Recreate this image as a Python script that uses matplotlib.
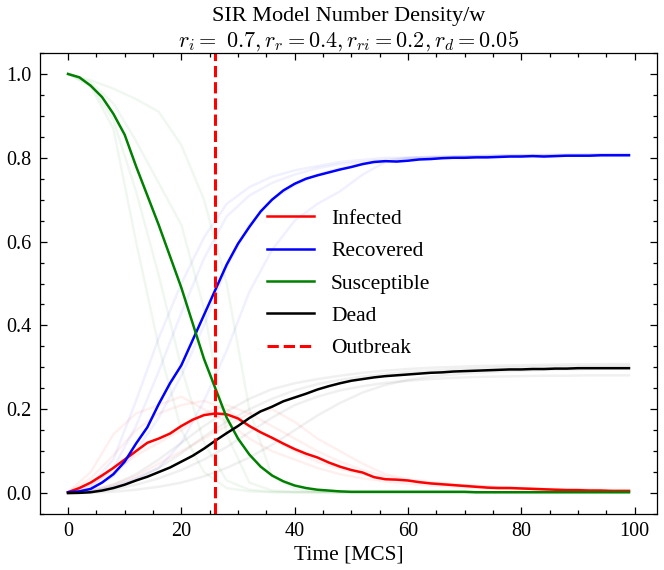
import matplotlib
matplotlib.use("Agg")
import matplotlib.pyplot as plt
from matplotlib.ticker import AutoMinorLocator

# ---------------- data ----------------
t_main = list(range(0, 99, 2)) + [99]

infected = [0.002, 0.012, 0.025, 0.042, 0.060, 0.080, 0.100, 0.120, 0.130, 0.142,
            0.160, 0.175, 0.186, 0.190, 0.188, 0.178, 0.160, 0.145, 0.132, 0.118,
            0.105, 0.094, 0.085, 0.073, 0.063, 0.055,
            0.049, 0.038, 0.033, 0.032, 0.030, 0.026, 0.023, 0.021, 0.019, 0.017,
            0.015, 0.013, 0.012, 0.012, 0.011, 0.010, 0.009, 0.008, 0.007, 0.007,
            0.006, 0.006, 0.005, 0.005, 0.005]
recovered = [0.002, 0.004, 0.010, 0.025, 0.045, 0.075, 0.118, 0.157, 0.212, 0.262,
             0.305, 0.365, 0.425, 0.485, 0.545, 0.595, 0.635, 0.672, 0.700, 0.722,
             0.738, 0.750, 0.758, 0.765, 0.772, 0.778,
             0.785, 0.790, 0.792, 0.791, 0.793, 0.796, 0.797, 0.799, 0.800, 0.800,
             0.801, 0.801, 0.802, 0.803, 0.803, 0.804, 0.803, 0.804, 0.805, 0.805,
             0.805, 0.806, 0.806, 0.806, 0.806]
susceptible = [1.000, 0.992, 0.972, 0.945, 0.905, 0.855, 0.780, 0.710, 0.640, 0.565,
               0.490, 0.405, 0.320, 0.250, 0.180, 0.130, 0.092, 0.063, 0.042, 0.028,
               0.018, 0.012, 0.008, 0.006, 0.004, 0.003,
               0.003, 0.003, 0.003, 0.003, 0.003, 0.003, 0.003, 0.003, 0.003, 0.003,
               0.002, 0.002, 0.002, 0.002, 0.002, 0.002, 0.002, 0.002, 0.002, 0.002,
               0.002, 0.002, 0.002, 0.002, 0.002]
dead = [0.000, 0.0005, 0.002, 0.006, 0.012, 0.020, 0.030, 0.039, 0.050, 0.061,
        0.075, 0.089, 0.106, 0.125, 0.143, 0.160, 0.179, 0.195, 0.206, 0.219,
        0.228, 0.237, 0.247, 0.255, 0.262, 0.268,
        0.272, 0.276, 0.279, 0.281, 0.283, 0.285, 0.287, 0.288, 0.290, 0.291,
        0.292, 0.293, 0.294, 0.295, 0.295, 0.296, 0.296, 0.297, 0.297, 0.298,
        0.298, 0.298, 0.298, 0.298, 0.298]
outbreak_time = 26

# faint individual runs
t_runs = list(range(0, 97, 4)) + [99]

susceptible_runs = [
    [1.0, 0.97, 0.87, 0.60, 0.35, 0.15, 0.05, 0.012, 0.004, 0.002, 0.002, 0.002, 0.002,
     0.002, 0.002, 0.002, 0.002, 0.002, 0.002, 0.002, 0.002, 0.002, 0.002, 0.002, 0.002, 0.002],
    [1.0, 0.975, 0.89, 0.72, 0.52, 0.30, 0.12, 0.03, 0.008, 0.003, 0.002, 0.002, 0.002,
     0.002, 0.002, 0.002, 0.002, 0.002, 0.002, 0.002, 0.002, 0.002, 0.002, 0.002, 0.002, 0.002],
    [1.0, 0.98, 0.93, 0.84, 0.74, 0.64, 0.44, 0.14, 0.025, 0.006, 0.003, 0.002, 0.002,
     0.002, 0.002, 0.002, 0.002, 0.002, 0.002, 0.002, 0.002, 0.002, 0.002, 0.002, 0.002, 0.002],
    [1.0, 0.985, 0.965, 0.94, 0.91, 0.83, 0.70, 0.50, 0.20, 0.04, 0.01, 0.004, 0.002,
     0.002, 0.002, 0.002, 0.002, 0.002, 0.002, 0.002, 0.002, 0.002, 0.002, 0.002, 0.002, 0.002],
]
recovered_runs = [
    [0.002, 0.02, 0.08, 0.22, 0.37, 0.50, 0.61, 0.69, 0.73, 0.755, 0.77, 0.78, 0.79,
     0.795, 0.80, 0.80, 0.802, 0.803, 0.804, 0.805, 0.805, 0.806, 0.806, 0.807, 0.807, 0.807],
    [0.002, 0.015, 0.06, 0.16, 0.29, 0.43, 0.56, 0.66, 0.71, 0.74, 0.76, 0.775, 0.785,
     0.79, 0.795, 0.80, 0.80, 0.801, 0.802, 0.803, 0.804, 0.804, 0.805, 0.805, 0.806, 0.806],
    [0.002, 0.01, 0.04, 0.10, 0.18, 0.28, 0.40, 0.54, 0.64, 0.70, 0.735, 0.76, 0.775,
     0.785, 0.79, 0.795, 0.80, 0.802, 0.804, 0.805, 0.806, 0.807, 0.808, 0.808, 0.809, 0.809],
    [0.002, 0.005, 0.015, 0.035, 0.06, 0.12, 0.22, 0.34, 0.48, 0.58, 0.65, 0.69, 0.72,
     0.76, 0.79, 0.80, 0.802, 0.803, 0.804, 0.805, 0.806, 0.806, 0.807, 0.807, 0.808, 0.808],
]
infected_runs = [
    [0.002, 0.05, 0.14, 0.19, 0.21, 0.23, 0.20, 0.17, 0.13, 0.10, 0.08, 0.06, 0.045,
     0.035, 0.028, 0.022, 0.018, 0.015, 0.012, 0.010, 0.008, 0.007, 0.006, 0.005, 0.004, 0.004],
    [0.002, 0.035, 0.09, 0.15, 0.19, 0.21, 0.22, 0.20, 0.16, 0.13, 0.10, 0.075, 0.058,
     0.045, 0.035, 0.028, 0.023, 0.019, 0.016, 0.013, 0.011, 0.009, 0.008, 0.007, 0.006, 0.006],
    [0.002, 0.02, 0.05, 0.09, 0.12, 0.15, 0.19, 0.21, 0.19, 0.16, 0.13, 0.10, 0.075,
     0.055, 0.04, 0.03, 0.025, 0.02, 0.017, 0.014, 0.012, 0.01, 0.009, 0.008, 0.007, 0.007],
    [0.002, 0.008, 0.02, 0.04, 0.07, 0.10, 0.13, 0.16, 0.19, 0.20, 0.17, 0.13, 0.10,
     0.07, 0.045, 0.033, 0.026, 0.021, 0.017, 0.014, 0.012, 0.01, 0.009, 0.008, 0.007, 0.007],
]
dead_runs = [
    [0.0, 0.004, 0.02, 0.045, 0.08, 0.12, 0.16, 0.195, 0.225, 0.248, 0.262, 0.272, 0.28,
     0.287, 0.292, 0.296, 0.299, 0.301, 0.303, 0.304, 0.305, 0.306, 0.307, 0.307, 0.308, 0.308],
    [0.0, 0.003, 0.014, 0.033, 0.06, 0.095, 0.135, 0.17, 0.20, 0.225, 0.245, 0.26, 0.27,
     0.278, 0.284, 0.289, 0.292, 0.295, 0.297, 0.299, 0.30, 0.301, 0.302, 0.302, 0.303, 0.303],
    [0.0, 0.002, 0.008, 0.02, 0.035, 0.055, 0.08, 0.11, 0.145, 0.18, 0.21, 0.23, 0.245,
     0.255, 0.263, 0.268, 0.272, 0.275, 0.277, 0.278, 0.279, 0.28, 0.28, 0.281, 0.281, 0.281],
    [0.0, 0.001, 0.003, 0.008, 0.015, 0.025, 0.04, 0.06, 0.085, 0.115, 0.15, 0.185, 0.215,
     0.24, 0.258, 0.27, 0.278, 0.283, 0.287, 0.29, 0.292, 0.294, 0.295, 0.296, 0.297, 0.297],
]

# ---------------- style ----------------
plt.rcParams.update({
    "font.family": ["Liberation Serif", "DejaVu Serif"],
    "mathtext.fontset": "cm",
    "font.size": 15.5,
    "xtick.labelsize": 14.5,
    "ytick.labelsize": 14.5,
    "xtick.direction": "in",
    "ytick.direction": "in",
    "xtick.top": True,
    "ytick.right": True,
    "xtick.minor.visible": True,
    "ytick.minor.visible": True,
    "xtick.major.size": 5,
    "ytick.major.size": 5,
    "xtick.minor.size": 3,
    "ytick.minor.size": 3,
    "xtick.major.pad": 6,
    "ytick.major.pad": 6,
    "xtick.major.width": 0.9,
    "ytick.major.width": 0.9,
    "xtick.minor.width": 0.9,
    "ytick.minor.width": 0.9,
    "axes.linewidth": 0.9,
})

fig = plt.figure(figsize=(6.64, 5.70), dpi=100)
ax = fig.add_axes([0.0602, 0.0982, 0.9293, 0.8088])

lw = 1.8
fa = 0.06
for run in infected_runs:
    ax.plot(t_runs, run, color="red", alpha=fa, lw=lw)
for run in recovered_runs:
    ax.plot(t_runs, run, color="blue", alpha=fa, lw=lw)
for run in susceptible_runs:
    ax.plot(t_runs, run, color="green", alpha=fa, lw=lw)
for run in dead_runs:
    ax.plot(t_runs, run, color="black", alpha=fa, lw=lw)

ax.plot(t_main, infected, color="red", lw=lw, label="Infected")
ax.plot(t_main, recovered, color="blue", lw=lw, label="Recovered")
ax.plot(t_main, susceptible, color="green", lw=lw, label="Susceptible")
ax.plot(t_main, dead, color="black", lw=lw, label="Dead")
ax.axvline(outbreak_time, color="red", ls="--", lw=2.2, label="Outbreak")

ax.xaxis.set_minor_locator(AutoMinorLocator(4))
ax.yaxis.set_minor_locator(AutoMinorLocator(4))

ax.set_xlabel("Time [MCS]", labelpad=3)
ax.set_title("SIR Model Number Density/w\n"
             r"$r_i =\ 0.7, r_r = 0.4, r_{ri} = 0.2, r_d = 0.05$",
             fontsize=16, pad=4)
ax.legend(loc="center", frameon=False, labelspacing=0.57, handlelength=2.2)

fig.savefig("out.png", dpi=100)
